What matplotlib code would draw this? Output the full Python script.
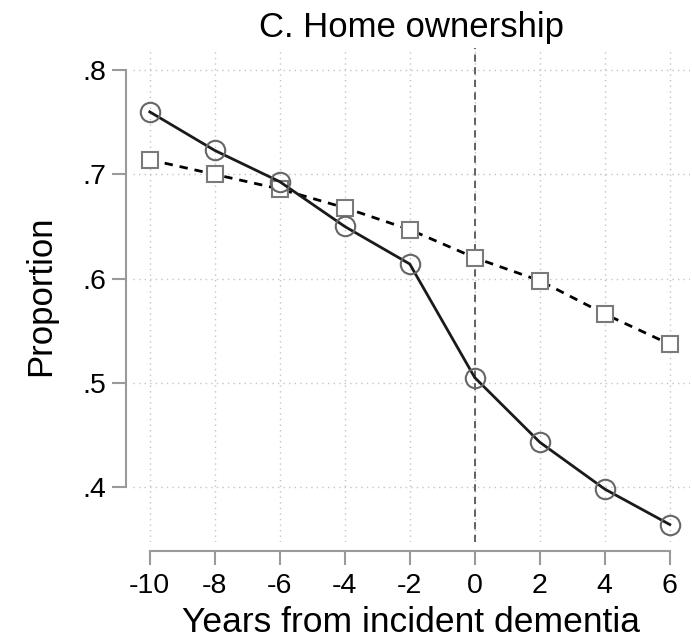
import numpy as np
import matplotlib
matplotlib.use("Agg")
import matplotlib.pyplot as plt

plt.rcParams['font.family'] = ['Liberation Sans', 'DejaVu Sans']

# years relative to dementia onset
years = [-10, -8, -6, -4, -2, 0, 2, 4, 6]
# proportion owning a home
dementia = [0.760, 0.723, 0.693, 0.650, 0.614, 0.505, 0.443, 0.398, 0.364]
no_dementia = [0.714, 0.700, 0.686, 0.668, 0.647, 0.620, 0.598, 0.566, 0.537]

y_ticks = [0.4, 0.5, 0.6, 0.7, 0.8]
y_labels = ['.4', '.5', '.6', '.7', '.8']

fig = plt.figure(figsize=(6.92, 6.44), dpi=100)
ax = fig.add_axes([0.192, 0.158, 0.805, 0.767])

grey = '#9a9a9a'

# light dotted grid
for x in years:
    ax.axvline(x, color='#c4c4c4', lw=1.0, ls=(0, (1, 3)), zorder=0)
for y in y_ticks:
    ax.axhline(y, color='#c4c4c4', lw=1.0, ls=(0, (1, 3)), zorder=0)

# onset marker
ax.axvline(0, color='#555555', lw=1.3, ls=(0, (4, 3)), zorder=1)

ax.plot(years, no_dementia, color='black', lw=2.0, ls=(0, (3, 2.5)),
        marker='s', ms=12, mfc='white', mec='#7a7a7a', mew=1.5, zorder=3)
ax.plot(years, dementia, color='#1a1a1a', lw=2.0, ls='-',
        marker='o', ms=14, mfc='none', mec='#666666', mew=1.5, zorder=4)

ax.set_xlim(-10.52, 6.62)
ax.set_ylim(0.347, 0.821)

ax.set_xticks(years)
ax.set_xticklabels([str(x) for x in years])
ax.set_yticks(y_ticks)
ax.set_yticklabels(y_labels)

for s in ['top', 'right']:
    ax.spines[s].set_visible(False)
ax.spines['left'].set_position(('outward', 5))
ax.spines['bottom'].set_position(('outward', 6))
ax.spines['left'].set_bounds(0.4, 0.8)
ax.spines['bottom'].set_bounds(-10, 6)
for s in ['left', 'bottom']:
    ax.spines[s].set_color(grey)
    ax.spines[s].set_linewidth(1.5)

ax.tick_params(axis='both', length=10, width=1.5, color=grey,
               labelsize=20.5)
ax.tick_params(axis='x', pad=6)
ax.tick_params(axis='y', pad=4)

ax.set_xlabel('Years from incident dementia', fontsize=25.5, labelpad=5)
ax.set_ylabel('Proportion', fontsize=25, labelpad=18)
ax.set_title('C. Home ownership', fontsize=25, pad=8)

fig.savefig('out.png', dpi=100)
